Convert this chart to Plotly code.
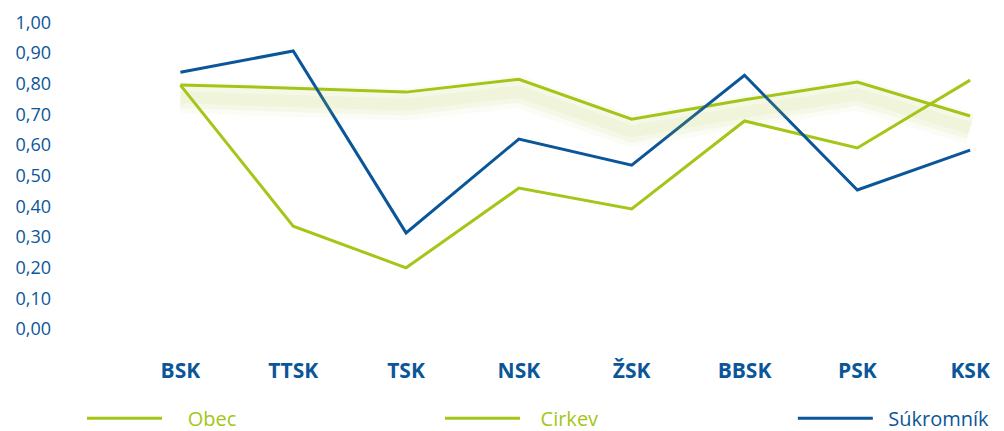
import plotly.graph_objects as go

regions = ["BSK", "TTSK", "TSK", "NSK", "ŽSK", "BBSK", "PSK", "KSK"]
obec = [0.795, 0.785, 0.772, 0.814, 0.684, 0.747, 0.805, 0.694]
cirkev = [0.795, 0.335, 0.199, 0.459, 0.391, 0.678, 0.590, 0.811]
sukromnik = [0.837, 0.906, 0.313, 0.619, 0.534, 0.827, 0.453, 0.583]

green = "#a3c617"
blue = "#0b5699"
y_range = [-0.02, 1.03]
glow_shift = 0.04
nb = "\u00a0"

fig = go.Figure()

# soft glow under the Obec line, drawn on a shifted twin axis
for w, a in [(32, 0.05), (22, 0.07), (12, 0.07)]:
    fig.add_trace(go.Scatter(
        x=regions, y=obec, mode="lines", yaxis="y2",
        line=dict(color=f"rgba(175,200,60,{a})", width=w),
        showlegend=False, hoverinfo="skip",
    ))

fig.add_trace(go.Scatter(x=regions, y=obec, name=nb * 4 + "Obec", mode="lines",
                         line=dict(color=green, width=3), legend="legend"))
fig.add_trace(go.Scatter(x=regions, y=cirkev, name=nb * 3 + "Cirkev", mode="lines",
                         line=dict(color=green, width=3), legend="legend2"))
fig.add_trace(go.Scatter(x=regions, y=sukromnik, name=nb * 2 + "Súkromník", mode="lines",
                         line=dict(color=blue, width=3), legend="legend3"))

leg = dict(orientation="h", xref="container", yref="container", xanchor="left",
           y=0.03, yanchor="middle", itemwidth=75, bgcolor="rgba(0,0,0,0)")

fig.update_layout(
    width=996, height=423,
    margin=dict(l=116, r=0, t=5, b=96, autoexpand=False),
    plot_bgcolor="white", paper_bgcolor="white",
    font=dict(family="Open Sans", color=blue),
    separators=",.",
    xaxis=dict(range=[-0.5, 7.3], showgrid=False, zeroline=False, showline=False,
               ticks="", tickfont=dict(size=21, color=blue, family="Open Sans", weight="bold"),
               ticklabelstandoff=21),
    yaxis=dict(range=y_range, dtick=0.1, tick0=0, tickformat=".2f", showgrid=False,
               zeroline=False, showline=False, ticks="",
               tickfont=dict(size=18, color=blue), ticklabelstandoff=72),
    yaxis2=dict(range=[y_range[0] + glow_shift, y_range[1] + glow_shift],
                overlaying="y", visible=False),
    legend=dict(leg, x=0.0743, font=dict(size=20, color=green)),
    legend2=dict(leg, x=0.4337, font=dict(size=20, color=green)),
    legend3=dict(leg, x=0.788, font=dict(size=20, color=blue)),
    showlegend=True,
)

fig.write_html("out.html")
